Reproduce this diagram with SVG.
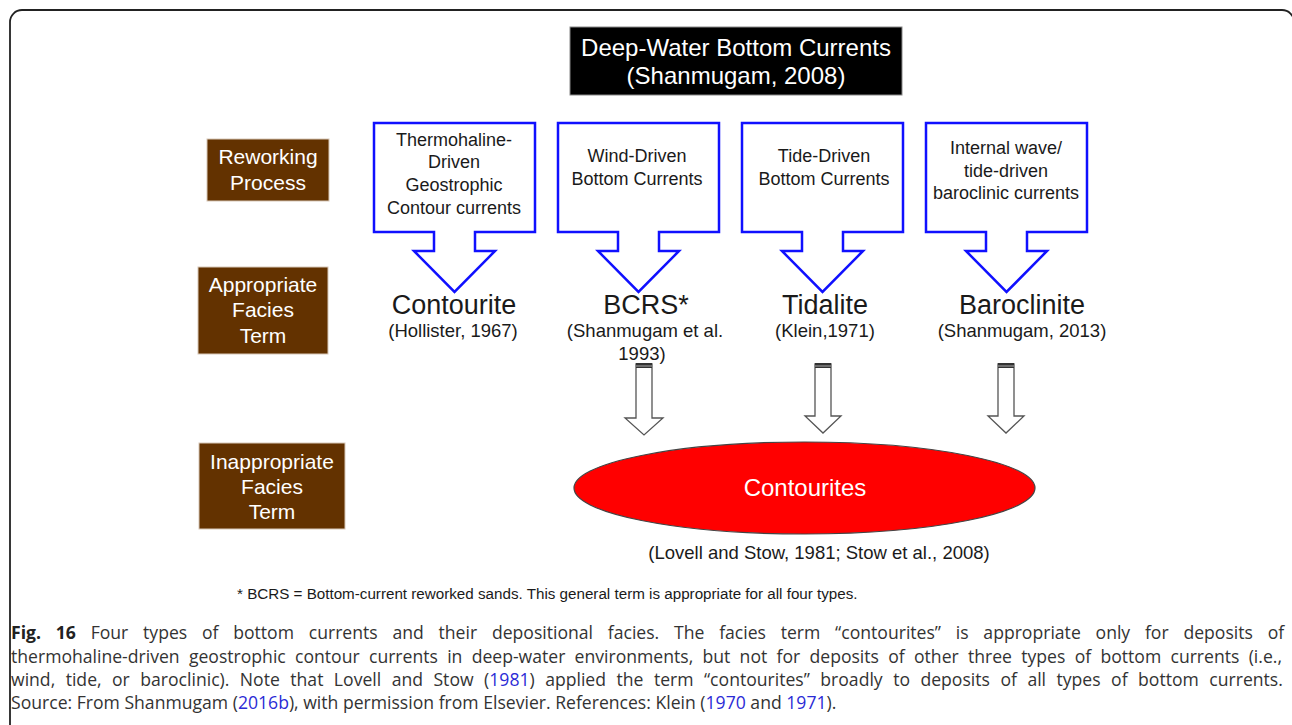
<svg xmlns="http://www.w3.org/2000/svg" width="1292" height="725" viewBox="0 0 1292 725">
<style>
.d{font-family:"Liberation Sans",Arial,sans-serif;fill:#1a1a1a;text-anchor:middle}
.w{font-family:"Liberation Sans",Arial,sans-serif;fill:#ffffff;text-anchor:middle}
.brown{fill:#633200;stroke:#d8c8b8;stroke-width:1}
.blk{fill:none;stroke:#1010ff;stroke-width:2.5;stroke-linejoin:miter}
.hol{fill:#fff;stroke:#555;stroke-width:1.3}
.cap{font-family:"Open Sans","Noto Sans",sans-serif;font-size:17.6px;fill:#333}
.lk{fill:#2b2bd6}
</style>
<rect x="10" y="10" width="1284" height="760" rx="12" fill="#fff" stroke="#222" stroke-width="1.8"/>
<g id="title">
<rect x="570" y="27" width="332" height="68" fill="#000" stroke="#888" stroke-width="1"/>
<text class="w" x="736" y="56" font-size="24">Deep-Water Bottom Currents</text>
<text class="w" x="736" y="84" font-size="24">(Shanmugam, 2008)</text>
</g>
<g id="label-reworking">
<rect class="brown" x="207" y="139" width="122" height="62"/>
<text class="w" x="268" y="164" font-size="21">Reworking</text>
<text class="w" x="268" y="190" font-size="21">Process</text>
</g>
<g id="label-appropriate">
<rect class="brown" x="198" y="267" width="130" height="87"/>
<text class="w" x="263" y="292" font-size="21">Appropriate</text>
<text class="w" x="263" y="317" font-size="21">Facies</text>
<text class="w" x="263" y="343" font-size="21">Term</text>
</g>
<g id="label-inappropriate">
<rect class="brown" x="199" y="443" width="146" height="86"/>
<text class="w" x="272" y="469" font-size="21">Inappropriate</text>
<text class="w" x="272" y="494" font-size="21">Facies</text>
<text class="w" x="272" y="519" font-size="21">Term</text>
</g>
<g id="process-thermohaline">
<path class="blk" d="M374,123 H535 V232 H475 V251 H495 L454.5,292 L414,251 H434 V232 H374 Z"/>
<text class="d" x="454" y="146" font-size="18">Thermohaline-</text>
<text class="d" x="454" y="168" font-size="18">Driven</text>
<text class="d" x="454" y="191" font-size="18">Geostrophic</text>
<text class="d" x="454" y="214" font-size="18">Contour currents</text>
</g>
<g id="process-wind">
<path class="blk" d="M558,123 H719 V232 H659 V251 H679 L638.5,292 L598,251 H618 V232 H558 Z"/>
<text class="d" x="637" y="162" font-size="18">Wind-Driven</text>
<text class="d" x="637" y="185" font-size="18">Bottom Currents</text>
</g>
<g id="process-tide">
<path class="blk" d="M742,123 H903 V232 H843 V251 H863 L822.5,292 L782,251 H802 V232 H742 Z"/>
<text class="d" x="824" y="162" font-size="18">Tide-Driven</text>
<text class="d" x="824" y="185" font-size="18">Bottom Currents</text>
</g>
<g id="process-internal">
<path class="blk" d="M926,123 H1087 V232 H1027 V251 H1047 L1006.5,292 L966,251 H986 V232 H926 Z"/>
<text class="d" x="1006" y="154" font-size="18">Internal wave/</text>
<text class="d" x="1006" y="177" font-size="18">tide-driven</text>
<text class="d" x="1006" y="199" font-size="18">baroclinic currents</text>
</g>
<g id="facies-contourite">
<text class="d" x="454" y="314" font-size="27">Contourite</text>
<text class="d" x="453" y="337" font-size="18.5">(Hollister, 1967)</text>
</g>
<g id="facies-bcrs">
<text class="d" x="646" y="314" font-size="27">BCRS*</text>
<text class="d" x="645" y="337" font-size="18.5">(Shanmugam et al.</text>
<text class="d" x="642" y="360" font-size="18.5">1993)</text>
</g>
<g id="facies-tidalite">
<text class="d" x="825" y="314" font-size="27">Tidalite</text>
<text class="d" x="825" y="337" font-size="18.5">(Klein,1971)</text>
</g>
<g id="facies-baroclinite">
<text class="d" x="1022" y="314" font-size="27">Baroclinite</text>
<text class="d" x="1022" y="337" font-size="18.5">(Shanmugam, 2013)</text>
</g>
<g id="connectors">
<g id="arrow-bcrs">
<path class="hol" d="M636,364 H652 V418 H663 L644,435 L625,418 H636 Z"/>
<rect x="636" y="363" width="16" height="5" fill="#333"/>
<line x1="636" y1="366" x2="652" y2="366" stroke="#aaa" stroke-width="1"/>
</g>
<g id="arrow-tidalite">
<path class="hol" d="M815,364 H831 V416 H841 L823,433 L805,416 H815 Z"/>
<rect x="815" y="363" width="16" height="5" fill="#333"/>
<line x1="815" y1="366" x2="831" y2="366" stroke="#aaa" stroke-width="1"/>
</g>
<g id="arrow-baroclinite">
<path class="hol" d="M998,364 H1014 V416 H1024 L1006,433 L988,416 H998 Z"/>
<rect x="998" y="363" width="16" height="5" fill="#333"/>
<line x1="998" y1="366" x2="1014" y2="366" stroke="#aaa" stroke-width="1"/>
</g>
</g>
<g id="contourites">
<ellipse cx="804.5" cy="488" rx="230.5" ry="46" fill="#ff0000" stroke="#444" stroke-width="1.2"/>
<text class="w" x="805" y="496" font-size="24">Contourites</text>
</g>
<g id="contourites-ref">
<text class="d" x="819" y="559" font-size="18.5">(Lovell and Stow, 1981; Stow et al., 2008)</text>
</g>
<g id="footnote">
<text class="d" x="237" y="599" font-size="15.2" style="text-anchor:start">* BCRS = Bottom-current reworked sands. This general term is appropriate for all four types.</text>
</g>
<g id="caption">
<text class="cap" x="11" y="639" word-spacing="10.2"><tspan font-weight="bold" fill="#222">Fig. 16</tspan> Four types of bottom currents and their depositional facies. The facies term “contourites” is appropriate only for deposits of</text>
<text class="cap" x="11" y="663" word-spacing="4.7">thermohaline-driven geostrophic contour currents in deep-water environments, but not for deposits of other three types of bottom currents (i.e.,</text>
<text class="cap" x="11" y="686" word-spacing="5.9">wind, tide, or baroclinic). Note that Lovell and Stow (<tspan class="lk">1981</tspan>) applied the term “contourites” broadly to deposits of all types of bottom currents.</text>
<text class="cap" x="11" y="709">Source: From Shanmugam (<tspan class="lk">2016b</tspan>), with permission from Elsevier. References: Klein (<tspan class="lk">1970</tspan> and <tspan class="lk">1971</tspan>).</text>
</g>
</svg>
